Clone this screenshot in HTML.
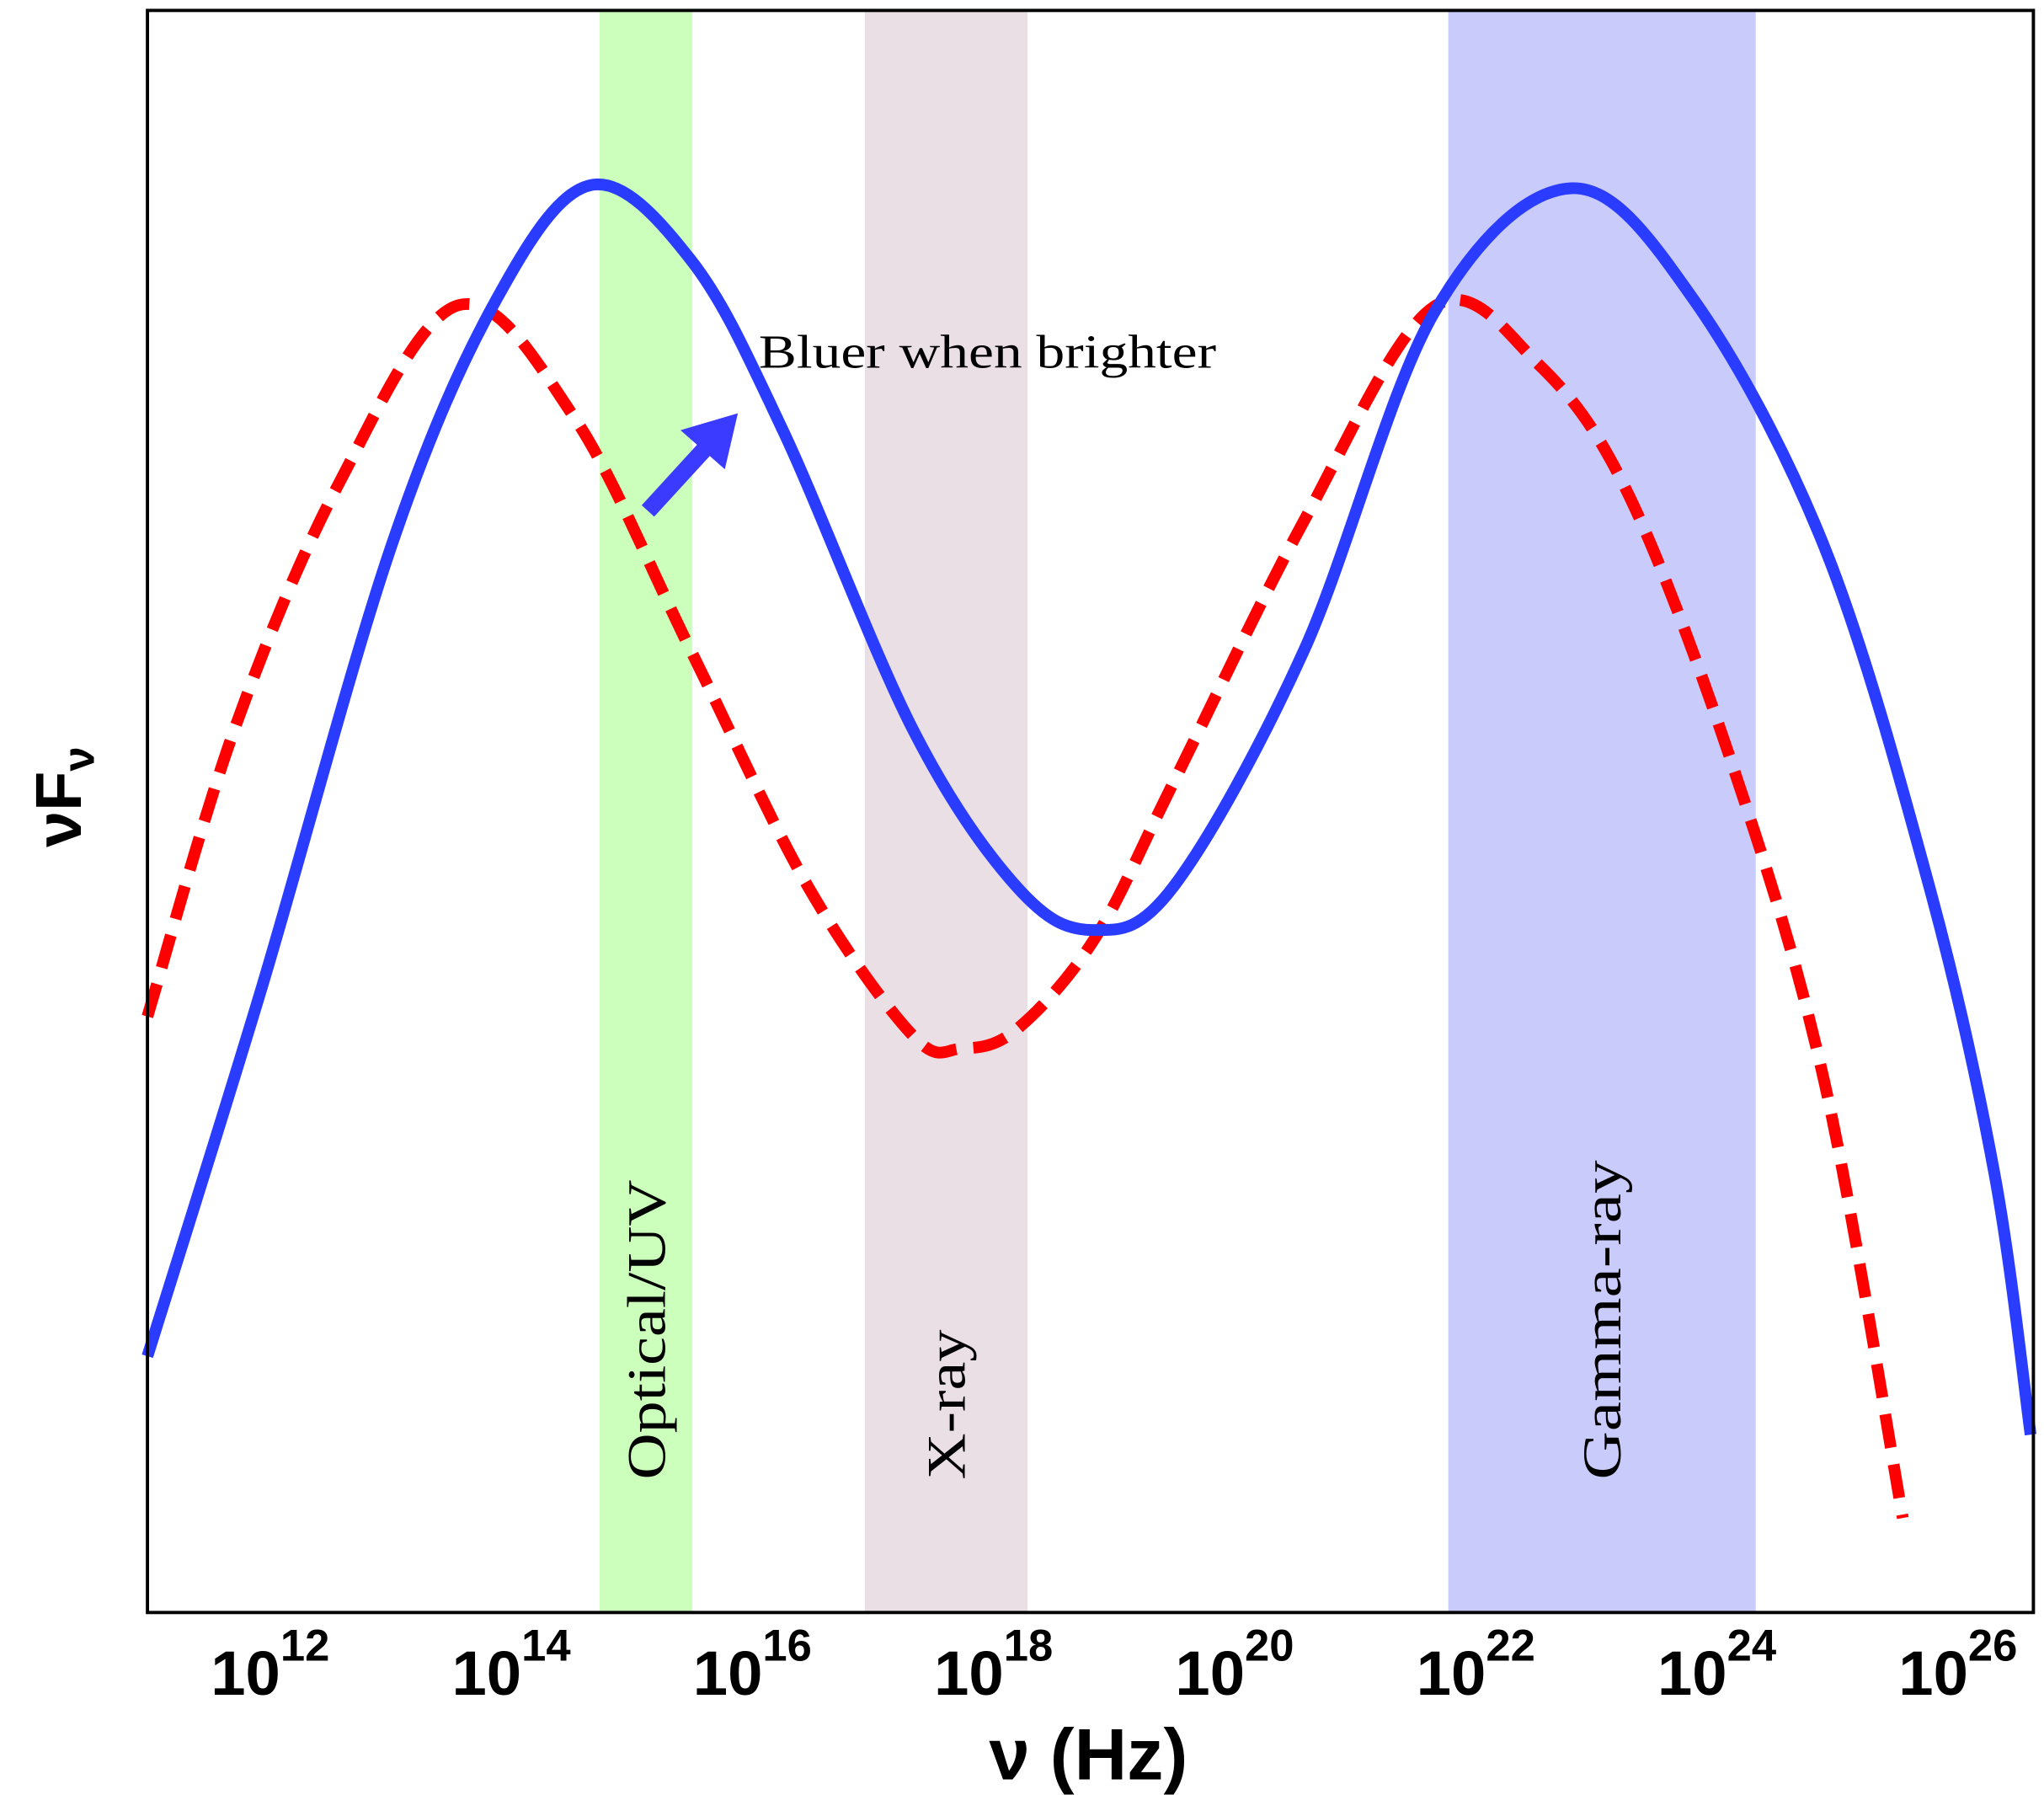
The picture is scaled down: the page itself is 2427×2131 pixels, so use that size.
<!DOCTYPE html>
<html><head><meta charset="utf-8"><style>
html,body{margin:0;padding:0;background:#fff;}
svg{display:block;}
</style></head><body>
<svg id="chart" width="2427" height="2131" viewBox="0 0 1568 1377" xmlns="http://www.w3.org/2000/svg">
<rect x="0" y="0" width="1568" height="1377" fill="#fff"/>
<g id="bands"></g>
<g id="curves"></g>
<rect x="113" y="8" width="1447" height="1229" fill="none" stroke="#000" stroke-width="2.5"/>
<g>
<line x1="497" y1="392" x2="540" y2="345" stroke="#3b3bff" stroke-width="13"/>
<polygon points="566,317 556,360 522,330" fill="#3b3bff"/>
</g>
<text x="582" y="282" font-family="Liberation Serif, serif" font-size="36" textLength="351" lengthAdjust="spacingAndGlyphs">Bluer when brighter</text>
<text transform="translate(510,1135) rotate(-90)" font-family="Liberation Serif, serif" font-size="42" textLength="230" lengthAdjust="spacingAndGlyphs">Optical/UV</text>
<text transform="translate(740,1135) rotate(-90)" font-family="Liberation Serif, serif" font-size="42" textLength="115" lengthAdjust="spacingAndGlyphs">X-ray</text>
<text transform="translate(1243,1135) rotate(-90)" font-family="Liberation Serif, serif" font-size="42" textLength="245" lengthAdjust="spacingAndGlyphs">Gamma-ray</text>
<text transform="translate(62,650) rotate(-90)" font-family="Liberation Sans, sans-serif" font-weight="bold" font-size="50">ν<tspan>F</tspan><tspan font-size="34" dy="10">ν</tspan></text>
<g id="ticks"></g>
<text x="835" y="1365" text-anchor="middle" font-family="Liberation Sans, sans-serif" font-weight="bold" font-size="56">ν (Hz)</text>
</svg>
<script>
const tickExps = [12,14,16,18,20,22,24,26];
const bandNames = ['optical-uv','x-ray','gamma-ray'];
const bandLo = [14.97,17.17,22.01];
const bandHi = [15.74,18.52,24.56];
const bandColors = ['#ccffbb','#ebdfe6','#c9ccfb'];
const blueLogNu = [11.22,12.16,13.24,14.11,14.90,15.73,16.49,17.57,18.43,19.06,19.73,20.81,21.89,23.03,24.05,25.13,26.0,26.54,26.84];
const blueFlux = [16.0,38.8,66.5,81.9,89.1,84.4,73.8,55.1,45.3,42.6,45.3,60.0,81.1,88.9,81.9,66.5,45.3,27.4,11.1];
const redLogNu = [11.22,11.94,12.81,13.80,14.76,15.73,16.70,17.57,17.97,18.43,19.08,19.73,20.81,21.89,22.76,23.51,24.38,25.13,25.78];
const redFlux = [37.2,55.1,70.5,81.6,74.6,60.0,45.3,36.0,35.2,36.4,42.1,51.8,68.1,81.5,77.9,69.7,52.6,33.1,5.9];

const NS='http://www.w3.org/2000/svg';
function xS(l){return 113+(l-11.22)*92.5;}
function yS(v){return 1237-v*12.29;}
function mk(t,a){const e=document.createElementNS(NS,t);for(const k in a)e.setAttribute(k,a[k]);return e;}

const bands=document.getElementById('bands');
for(let i=0;i<bandNames.length;i++){
  const r=mk('rect',{x:xS(bandLo[i]),y:8,width:xS(bandHi[i])-xS(bandLo[i]),height:1229,fill:bandColors[i]});
  
  
  bands.appendChild(r);
}
function path(xs,ys){
  const p=xs.map((x,i)=>[xS(x),yS(ys[i])]);
  let d='M'+p[0][0]+','+p[0][1];
  for(let i=0;i<p.length-1;i++){
    const p0=p[i-1]||p[i],p1=p[i],p2=p[i+1],p3=p[i+2]||p2;
    const c1=[p1[0]+(p2[0]-p0[0])/6,p1[1]+(p2[1]-p0[1])/6];
    const c2=[p2[0]-(p3[0]-p1[0])/6,p2[1]-(p3[1]-p1[1])/6];
    d+=' C'+c1+' '+c2+' '+p2;
  }
  return d;
}
const cv=document.getElementById('curves');
const red=mk('path',{d:path(redLogNu,redFlux),fill:'none',stroke:'#ff0000','stroke-width':9,'stroke-dasharray':'26 13'});


cv.appendChild(red);
const blue=mk('path',{d:path(blueLogNu,blueFlux),fill:'none',stroke:'#2a3cff','stroke-width':9});


cv.appendChild(blue);

const tk=document.getElementById('ticks');
tickExps.forEach(e=>{
  const t=mk('text',{x:xS(e)+22,y:1300,'text-anchor':'middle','font-family':'Liberation Sans, sans-serif','font-weight':'bold','font-size':48});
  
  
  t.textContent='10';
  const s=mk('tspan',{'font-size':34,dy:-26});
  s.textContent=e;
  t.appendChild(s);
  tk.appendChild(t);
});
</script>
</body></html>
